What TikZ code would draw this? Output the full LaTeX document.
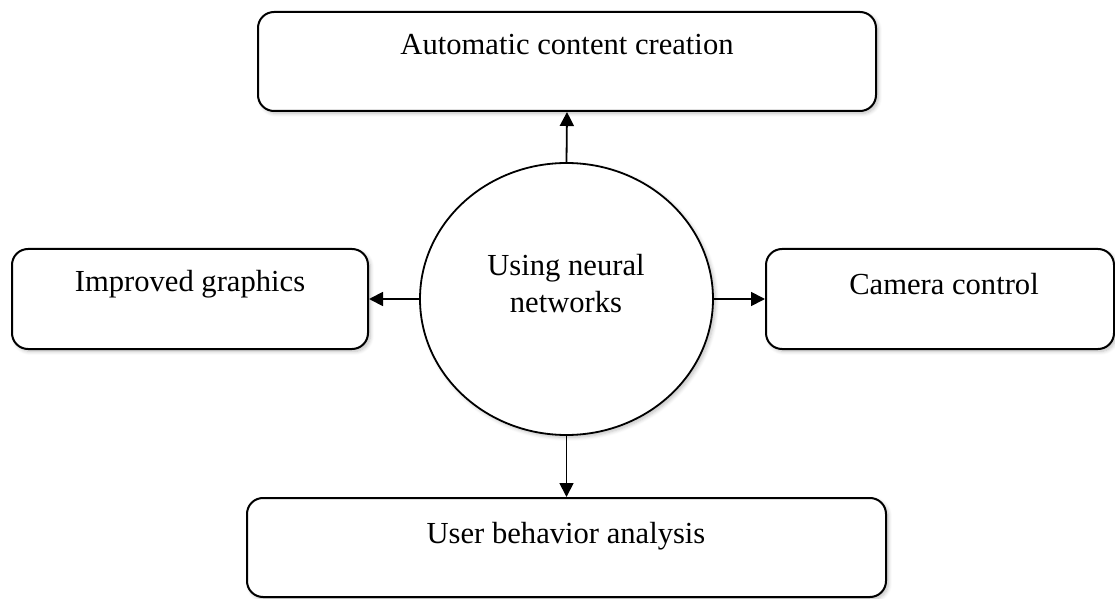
\documentclass[tikz,border=0pt]{standalone}
\usepackage{fontspec}
\setmainfont{Liberation Serif}
\usetikzlibrary{arrows.meta,shapes.geometric,shadows.blur}
\begin{document}
\begin{tikzpicture}[x=0.5pt,y=-0.5pt,
  box/.style={draw=black,line width=1pt,rounded corners=8pt,fill=white,
    blur shadow={shadow xshift=1.2pt,shadow yshift=-1.2pt,shadow blur steps=6,shadow opacity=25},
    inner sep=0pt},
  hub/.style={draw=black,line width=0.9pt,ellipse,fill=white,inner sep=0pt,
    blur shadow={shadow xshift=1.2pt,shadow yshift=-1.2pt,shadow blur steps=6,shadow opacity=25}},
  txt/.style={font=\fontsize{15.3}{18}\selectfont,anchor=base,inner sep=0pt},
  link/.style={line width=0.9pt,-{Triangle[length=7pt,width=7pt]}}]
\useasboundingbox (0,0) rectangle (1115,599);
% boxes
\node[box,minimum width=309pt,minimum height=49.5pt] (top) at (567,61.5) {};
\node[box,minimum width=178pt,minimum height=50pt] (left) at (190,299) {};
\node[box,minimum width=174pt,minimum height=50pt] (right) at (940,299) {};
\node[box,minimum width=319.5pt,minimum height=49.5pt] (bottom) at (566.5,547.5) {};
\node[hub,minimum width=146.5pt,minimum height=136pt] (hub) at (566.5,299) {};
% texts
\node[txt] (ttop) at (567,55) {Automatic content creation};
\node[txt] (tleft) at (190,292) {Improved graphics};
\node[txt] (tright) at (944,294) {Camera control};
\node[txt] (tbottom) at (566,543) {User behavior analysis};
\node[txt] (thub1) at (566,275) {Using neural};
\node[txt] (thub2) at (566,313) {networks};
% connectors
\draw[link] (hub.north) -- (top.south);
\draw[link] (hub.south) -- (bottom.north);
\draw[link] (hub.west) -- (left.east);
\draw[link] (hub.east) -- (right.west);
\end{tikzpicture}
\end{document}
